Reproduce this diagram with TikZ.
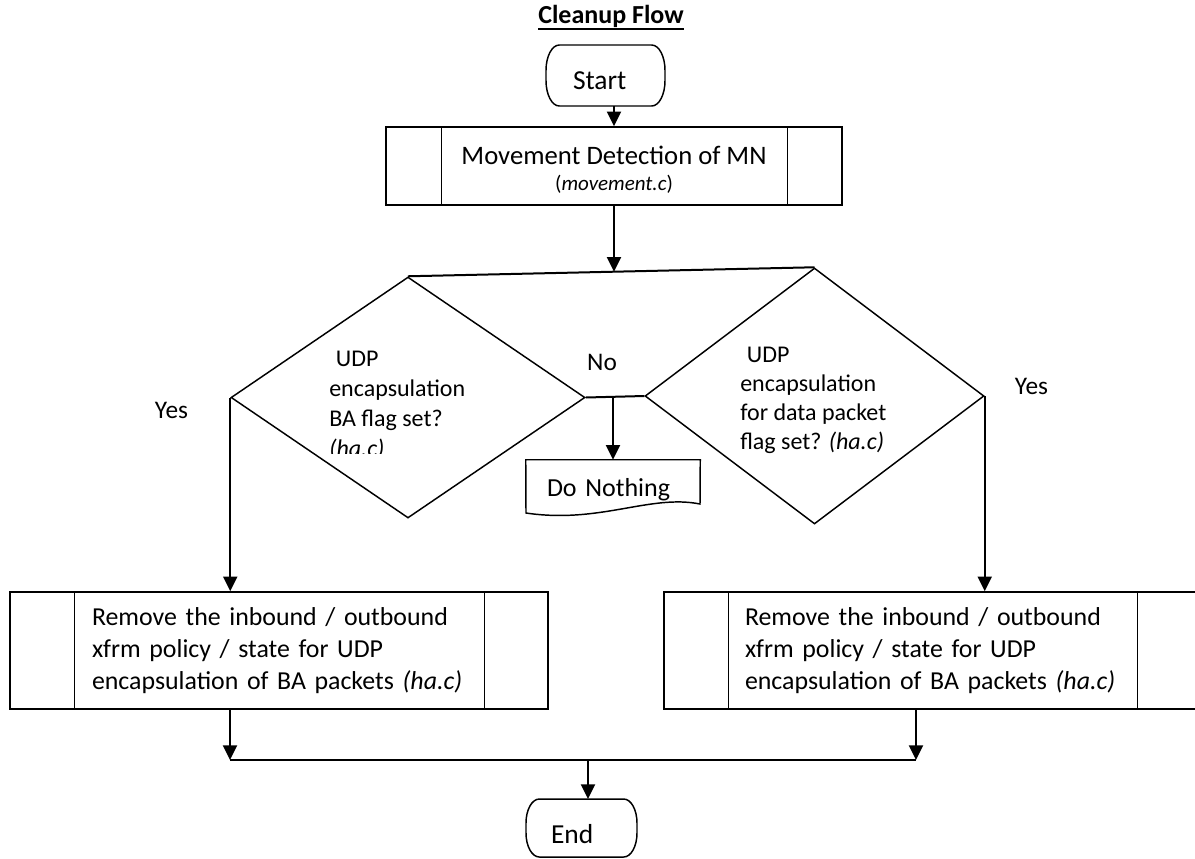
\documentclass[tikz,border=0pt]{standalone}
\usepackage{fontspec}
\setmainfont{Carlito}
\usetikzlibrary{arrows.meta,shapes.geometric,calc}

\newcommand\fsz[2]{\fontsize{#1}{#2}\selectfont}
% terminal outline with elliptical ends: node name, x radius, y radius
\newcommand\termoutline[3]{%
  \draw[shp] ([xshift=-#2]#1.north east)
    arc[start angle=90,end angle=0,x radius=#2,y radius=#3]
    -- ([yshift=#3]#1.south east)
    arc[start angle=0,end angle=-90,x radius=#2,y radius=#3]
    -- ([xshift=#2]#1.south west)
    arc[start angle=270,end angle=180,x radius=#2,y radius=#3]
    -- ([yshift=-#3]#1.north west)
    arc[start angle=180,end angle=90,x radius=#2,y radius=#3] -- cycle;}

\begin{document}
\begin{tikzpicture}[x=0.75pt,y=-0.75pt,
  shp/.style={draw, line width=1.1pt},
  conn/.style={line width=1.5pt},
  arr/.style={line width=1.5pt, -{Triangle[width=10.5pt,length=11pt]}},
  term/.style={inner sep=0pt, outer sep=0pt, align=left, font=\fsz{20.6pt}{24pt}},
  pbox/.style={shp, rectangle, inner sep=0pt, align=left, font=\fsz{20pt}{24pt}},
  rmbox/.style={pbox, font=\fsz{19.4pt}{24pt}},
  dia/.style={shp, diamond, inner sep=0pt},
  lbl/.style={inner sep=0pt, anchor=base, font=\fsz{19pt}{23pt}},
  dtext/.style={inner sep=0pt, anchor=north west, align=left, font=\fsz{18pt}{21.75pt}},
]
% canvas
\fill[white] (0,0) rectangle (1195,858);
\useasboundingbox (0,0) rectangle (1195,858);
\clip (0,0) rectangle (1195,858);

% title
\node[lbl, font=\bfseries\fsz{19.5pt}{23pt}] (title) at (611,23.3) {Cleanup Flow};
\draw[line width=1.5pt] ([yshift=-4pt]title.base west) -- ([yshift=-4pt]title.base east);

% start / movement detection
\node[term, minimum width=119*0.75pt, minimum height=61*0.75pt, text width=65*0.75pt,
      text height=20.25pt, text depth=0pt] (start) at (605.5,75.5) {Start};
\termoutline{start}{10pt}{19pt}
\node[pbox, align=center, minimum width=456*0.75pt, minimum height=78*0.75pt] (proc) at (614,166)
  {\rule{0pt}{20pt}Movement Detection of MN\\[-4.5pt]{\fsz{15.75pt}{19.5pt}(\textit{movement.c})}};
\draw[shp] ([xshift=56*0.75pt]proc.north west) -- ([xshift=56*0.75pt]proc.south west);
\draw[shp] ([xshift=-55*0.75pt]proc.north east) -- ([xshift=-55*0.75pt]proc.south east);

% decisions
\node[dia, minimum width=354*0.75pt, minimum height=241*0.75pt] (dl) at (408,397.5) {};
\node[dia, minimum width=339*0.75pt, minimum height=256*0.75pt] (dr) at (814.5,396) {};
\begin{scope}
  \clip (300,330) rectangle (500,453);
  \node[dtext, font=\fsz{18pt}{22.5pt}] (tl) at (329,350.5)
    {\hspace*{5pt}UDP\\encapsulation\\BA flag set?\\\textit{(ha.c)}};
\end{scope}
\node[dtext] (tr) at (740,346.5) {\hspace*{5pt}UDP\\encapsulation\\for data packet\\flag set? \textit{(ha.c)}};

% do nothing (document shape)
\node[inner sep=0pt, minimum width=174*0.75pt, minimum height=60*0.75pt, text width=132*0.75pt,
      align=left, font=\fsz{19.5pt}{23pt}] (dn) at (613,490) {Do Nothing};
\draw[shp] (dn.north west) -- (dn.north east) -- (700,504)
  .. controls (650,494) and (600,524) .. (526,513) -- cycle;

% removal boxes
\node[rmbox, minimum width=538*0.75pt, minimum height=117*0.75pt, text width=374*0.75pt] (lbox) at (279,650.5)
  {\mbox{Remove the inbound / outbound}\\\mbox{xfrm policy / state for UDP}\\\mbox{encapsulation of BA packets \textit{(ha.c)}}};
\draw[shp] ([xshift=65*0.75pt]lbox.north west) -- ([xshift=65*0.75pt]lbox.south west);
\draw[shp] ([xshift=-64*0.75pt]lbox.north east) -- ([xshift=-64*0.75pt]lbox.south east);
\node[rmbox, minimum width=537*0.75pt, minimum height=117*0.75pt, text width=375*0.75pt] (rbox) at (932.5,650.5)
  {\mbox{Remove the inbound / outbound}\\\mbox{xfrm policy / state for UDP}\\\mbox{encapsulation of BA packets \textit{(ha.c)}}};
\draw[shp] ([xshift=65*0.75pt]rbox.north west) -- ([xshift=65*0.75pt]rbox.south west);
\draw[shp] ([xshift=-64*0.75pt]rbox.north east) -- ([xshift=-64*0.75pt]rbox.south east);

% end
\node[term, minimum width=111*0.75pt, minimum height=58*0.75pt, text width=61*0.75pt,
      text height=23.25pt, text depth=0pt] (end) at (581.5,828) {End};
\termoutline{end}{10pt}{18pt}

% branch labels
\node[lbl] (yl) at (171.5,418) {Yes};
\node[lbl] (yr) at (1031.5,394) {Yes};
\node[lbl] (no) at (602,370) {No};

% connectors
\coordinate (tj) at ($(dl.north)!0.5!(dr.north)$);
\draw[arr] (start.south -| proc.north) -- (proc.north);
\draw[conn] (dl.north) -- (dr.north);
\draw[arr] (proc.south) -- (proc.south |- tj);
\draw[conn] (dl.east) -- (dr.west);
\draw[arr] (dn.north |- dl.east) -- (dn.north);
\draw[arr] (dl.west) -- (dl.west |- lbox.north);
\draw[arr] (dr.east) -- (dr.east |- rbox.north);
\coordinate (ml) at (230,760);
\coordinate (mr) at (916,760);
\coordinate (mj) at (588,760);
\draw[conn] (ml) -- (mr);
\draw[arr] (lbox.south -| ml) -- (ml);
\draw[arr] (rbox.south -| mr) -- (mr);
\draw[arr] (mj) -- (mj |- end.north);
\end{tikzpicture}
\end{document}
